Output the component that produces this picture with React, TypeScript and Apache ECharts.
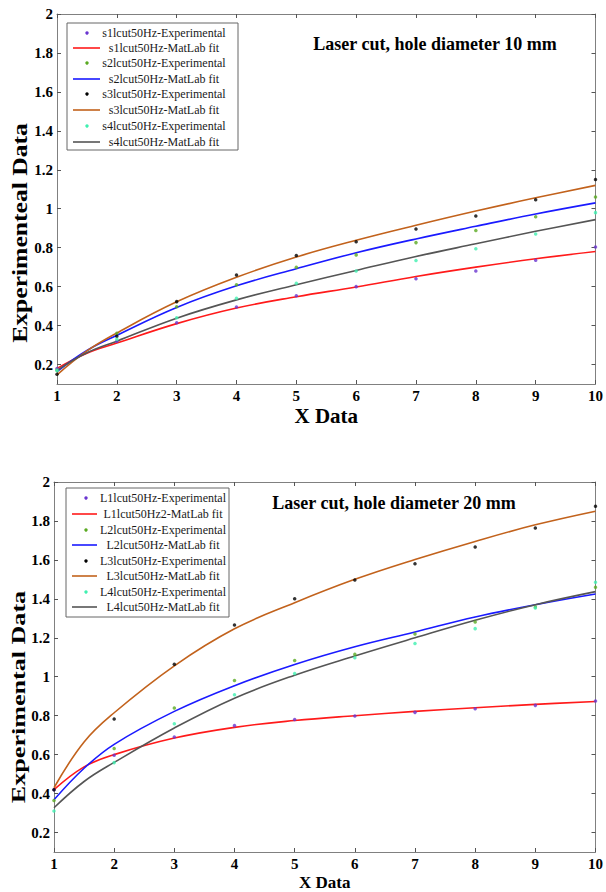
import React, { useEffect, useRef } from "react";
import * as echarts from "echarts";

// ---------- data ----------
const xValues = [1, 2, 3, 4, 5, 6, 7, 8, 9, 10];
const fitX = [1, 1.5, 2, 3, 4, 5, 6, 7, 8, 9, 10];
const yTickValues = [0.2, 0.4, 0.6, 0.8, 1, 1.2, 1.4, 1.6, 1.8, 2];

// hole diameter 10 mm (experimental at xValues, fits at fitX)
const s1Exp = [0.18, 0.32, 0.415, 0.495, 0.553, 0.6, 0.641, 0.68, 0.735, 0.804];
const s1Fit = [0.18, 0.258, 0.31, 0.41, 0.49, 0.548, 0.598, 0.652, 0.7, 0.743, 0.78];
const s2Exp = [0.17, 0.36, 0.497, 0.61, 0.7, 0.763, 0.826, 0.888, 0.959, 1.06];
const s2Fit = [0.164, 0.272, 0.35, 0.493, 0.604, 0.692, 0.774, 0.845, 0.91, 0.973, 1.03];
const s3Exp = [0.15, 0.345, 0.523, 0.66, 0.76, 0.83, 0.896, 0.963, 1.046, 1.15];
const s3Fit = [0.147, 0.27, 0.362, 0.522, 0.648, 0.752, 0.838, 0.915, 0.988, 1.056, 1.12];
const s4Exp = [0.17, 0.33, 0.44, 0.54, 0.617, 0.68, 0.734, 0.794, 0.87, 0.98];
const s4Fit = [0.17, 0.26, 0.32, 0.438, 0.532, 0.61, 0.683, 0.755, 0.82, 0.884, 0.944];

// hole diameter 20 mm
const L1Exp = [0.42, 0.597, 0.69, 0.749, 0.78, 0.798, 0.817, 0.836, 0.853, 0.875];
const L1Fit = [0.42, 0.537, 0.6, 0.685, 0.74, 0.775, 0.8, 0.822, 0.841, 0.858, 0.873];
const L2Exp = [0.365, 0.632, 0.839, 0.981, 1.083, 1.115, 1.219, 1.281, 1.358, 1.459];
const L2Fit = [0.368, 0.53, 0.653, 0.822, 0.954, 1.063, 1.154, 1.23, 1.307, 1.37, 1.425];
const L3Exp = [0.42, 0.783, 1.064, 1.266, 1.4, 1.497, 1.58, 1.666, 1.764, 1.875];
const L3Fit = [0.43, 0.665, 0.815, 1.056, 1.246, 1.38, 1.5, 1.602, 1.695, 1.78, 1.85];
const L4Exp = [0.31, 0.559, 0.759, 0.908, 1.017, 1.098, 1.171, 1.247, 1.353, 1.485];
const L4Fit = [0.327, 0.462, 0.56, 0.737, 0.89, 1.008, 1.107, 1.2, 1.29, 1.37, 1.437];

const topNames = [
  "s1lcut50Hz-Experimental",
  "s1lcut50Hz-MatLab fit",
  "s2lcut50Hz-Experimental",
  "s2lcut50Hz-MatLab fit",
  "s3lcut50Hz-Experimental",
  "s3lcut50Hz-MatLab fit",
  "s4lcut50Hz-Experimental",
  "s4lcut50Hz-MatLab fit",
];
const bottomNames = [
  "L1lcut50Hz-Experimental",
  "L1lcut50Hz2-MatLab fit",
  "L2lcut50Hz-Experimental",
  "L2lcut50Hz-MatLab fit",
  "L3lcut50Hz-Experimental",
  "L3lcut50Hz-MatLab fit",
  "L4lcut50Hz-Experimental",
  "L4lcut50Hz-MatLab fit",
];

const topTitle = "Laser cut, hole diameter 10 mm";
const bottomTitle = "Laser cut, hole diameter 20 mm";
const topYName = "Experimenteal Data";
const bottomYName = "Experimental Data";
const xName = "X Data";

// ---------- style ----------
const FONT = "'Liberation Serif', 'Times New Roman', serif";
const colors = [
  "#6a35d0", // exp 1
  "#ff1a1a", // fit 1
  "#5aaa22", // exp 2
  "#1a1aff", // fit 2
  "#000000", // exp 3
  "#c2621c", // fit 3
  "#40f0b0", // exp 4
  "#555555", // fit 4
];
const AXIS_COLOR = "#808080";

function xAxes(gridIndex: number, nameSize: number, nameGap: number) {
  const base = {
    type: "value" as const,
    gridIndex,
    min: 1,
    max: 10,
    interval: 1,
    splitLine: { show: false },
    axisLine: { show: true, onZero: false, lineStyle: { color: AXIS_COLOR, width: 1 } },
    axisTick: { show: true, inside: true, length: 4, lineStyle: { color: "#555" } },
  };
  return [
    {
      ...base,
      position: "bottom",
      name: xName,
      nameLocation: "middle",
      nameGap,
      nameTextStyle: { fontFamily: FONT, fontWeight: "bold", fontSize: nameSize, color: "#000" },
      axisLabel: { color: "#000", fontFamily: FONT, fontWeight: "bold", fontSize: 15, margin: 4 },
    },
    { ...base, position: "top", axisLabel: { show: false } },
  ];
}

function yAxes(gridIndex: number) {
  const base = {
    type: "value" as const,
    gridIndex,
    min: 0.1,
    max: 2,
    splitLine: { show: false },
    axisLine: { show: true, onZero: false, lineStyle: { color: AXIS_COLOR, width: 1 } },
    axisTick: {
      show: true,
      inside: true,
      length: 4,
      customValues: yTickValues,
      lineStyle: { color: "#555" },
    },
  };
  return [
    {
      ...base,
      position: "left",
      axisLabel: {
        color: "#000",
        fontFamily: FONT,
        fontWeight: "bold",
        fontSize: 15,
        margin: 4,
        customValues: yTickValues,
      },
    },
    { ...base, position: "right", axisLabel: { show: false } },
  ];
}

function makeSeries(names: string[], sets: number[][], xIdx: number, yIdx: number) {
  return sets.map((arr, i) => {
    const isFit = i % 2 === 1;
    if (isFit) {
      return {
        type: "line",
        name: names[i],
        xAxisIndex: xIdx,
        yAxisIndex: yIdx,
        data: fitX.map((x, k) => [x, arr[k]]),
        smooth: 0.4,
        showSymbol: false,
        symbol: "none",
        lineStyle: { color: colors[i], width: 1.6 },
        itemStyle: { color: colors[i] },
        z: 2,
      };
    }
    return {
      type: "scatter",
      name: names[i],
      xAxisIndex: xIdx,
      yAxisIndex: yIdx,
      data: xValues.map((x, k) => [x, arr[k]]),
      symbol: "circle",
      symbolSize: 3.5,
      itemStyle: { color: colors[i] },
      z: 3,
    };
  });
}

function legendGraphic(
  names: string[],
  box: { x: number; y: number; w: number; h: number },
  rows: number[],
  dotX: number,
  lineX0: number,
  lineX1: number,
  textX: number
) {
  const els: any[] = [
    {
      type: "rect",
      shape: { x: box.x, y: box.y, width: box.w, height: box.h },
      style: { fill: "#fff", stroke: "#666", lineWidth: 1 },
      z: 10,
    },
  ];
  names.forEach((n, i) => {
    const y = rows[i];
    if (i % 2 === 0) {
      els.push({
        type: "circle",
        shape: { cx: dotX, cy: y, r: 1.7 },
        style: { fill: colors[i] },
        z: 11,
      });
    } else {
      els.push({
        type: "line",
        shape: { x1: lineX0, y1: y, x2: lineX1, y2: y },
        style: { stroke: colors[i], lineWidth: 1.6 },
        z: 11,
      });
    }
    els.push({
      type: "text",
      style: {
        text: n,
        x: textX,
        y,
        textAlign: "center",
        textVerticalAlign: "middle",
        font: `12px ${FONT}`,
        fill: "#1a1a1a",
      },
      z: 11,
    });
  });
  return els;
}

export default function App() {
  const ref = useRef<HTMLDivElement>(null);

  useEffect(() => {
    if (!ref.current) return;
    const chart = echarts.init(ref.current, null, { renderer: "svg" });

    const option: any = {
      animation: false,
      backgroundColor: "#fff",
      grid: [
        { left: 57, top: 14, width: 540, height: 370, containLabel: false },
        { left: 54, top: 482, width: 547, height: 372, containLabel: false },
      ],
      xAxis: [...xAxes(0, 21, 21), ...xAxes(1, 17, 22)],
      yAxis: [...yAxes(0), ...yAxes(1)],
      series: [
        ...makeSeries(topNames, [s1Exp, s1Fit, s2Exp, s2Fit, s3Exp, s3Fit, s4Exp, s4Fit], 0, 0),
        ...makeSeries(bottomNames, [L1Exp, L1Fit, L2Exp, L2Fit, L3Exp, L3Fit, L4Exp, L4Fit], 2, 2),
      ],
      graphic: [
        ...legendGraphic(
          topNames,
          { x: 67, y: 23, w: 171, h: 127 },
          [33, 48, 63, 79, 94, 110, 126, 142],
          87,
          73,
          100,
          164
        ),
        ...legendGraphic(
          bottomNames,
          { x: 66, y: 488, w: 163, h: 129 },
          [498, 514, 530, 545, 561, 576, 592, 607],
          86,
          72,
          97,
          163
        ),
        {
          type: "text",
          style: {
            text: topTitle,
            x: 435,
            y: 44,
            textAlign: "center",
            textVerticalAlign: "middle",
            font: `bold 18px ${FONT}`,
            fill: "#000",
          },
        },
        {
          type: "text",
          style: {
            text: bottomTitle,
            x: 394,
            y: 503,
            textAlign: "center",
            textVerticalAlign: "middle",
            font: `bold 18px ${FONT}`,
            fill: "#000",
          },
        },
        {
          type: "text",
          x: 20,
          y: 233,
          rotation: Math.PI / 2,
          scaleX: 1.28,
          style: {
            text: topYName,
            x: 0,
            y: 0,
            textAlign: "center",
            textVerticalAlign: "middle",
            font: `bold 20px ${FONT}`,
            fill: "#000",
          },
        },
        {
          type: "text",
          x: 19,
          y: 697,
          rotation: Math.PI / 2,
          scaleX: 1.45,
          style: {
            text: bottomYName,
            x: 0,
            y: 0,
            textAlign: "center",
            textVerticalAlign: "middle",
            font: `bold 18px ${FONT}`,
            fill: "#000",
          },
        },
      ],
    };

    chart.setOption(option);
    return () => chart.dispose();
  }, []);

  return (
    <div
      ref={ref}
      style={{ position: "absolute", left: 0, top: 0, width: 606, height: 892, background: "#fff" }}
    />
  );
}
